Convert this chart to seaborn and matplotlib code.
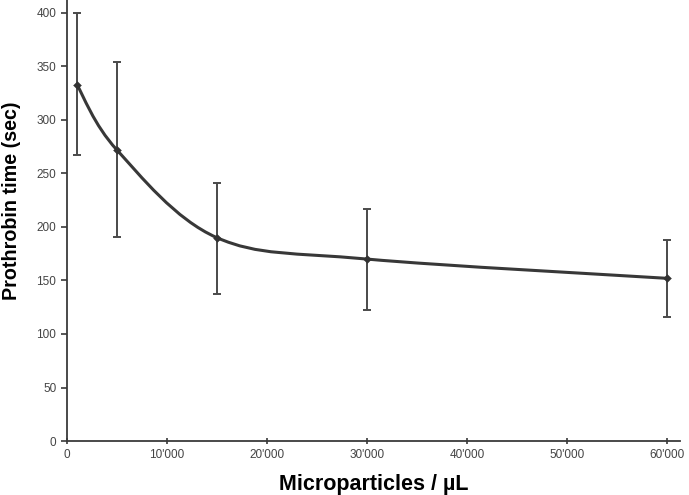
import numpy as np
import matplotlib
matplotlib.use("Agg")
import matplotlib.pyplot as plt
from matplotlib.path import Path
from matplotlib.patches import PathPatch
from matplotlib.ticker import FuncFormatter
import seaborn as sns
import pandas as pd

# ── Data ─────────────────────────────────────────────────────────────────────
particles = [1000, 5000, 15000, 30000, 60000]
pt_mean   = [333, 272, 190, 170, 152]
err_low   = [267, 191, 137, 122, 116]
err_high  = [400, 354, 241, 217, 188]

df = pd.DataFrame({"particles": particles, "pt": pt_mean})

sns.set_style("white")
plt.rcParams["font.family"] = ["Liberation Sans", "DejaVu Sans"]

fig = plt.figure(figsize=(6.89, 4.95), dpi=100)
ax = fig.add_axes([0.097, 0.109, 0.89, 0.891])

# error bars
yerr = [np.array(pt_mean) - np.array(err_low), np.array(err_high) - np.array(pt_mean)]
ax.errorbar(particles, pt_mean, yerr=yerr, fmt="none", ecolor="#4a4a4a",
            elinewidth=1.4, capsize=2.7, capthick=1.4, zorder=2)

# smoothed connecting line (Bezier through the points, like a spreadsheet "smooth line")
pts = np.column_stack([particles, pt_mean]).astype(float)
verts = [tuple(pts[0])]
codes = [Path.MOVETO]
n = len(pts)
for i in range(n - 1):
    p_prev = pts[i - 1] if i > 0 else pts[i]
    p_next2 = pts[i + 2] if i + 2 < n else pts[i + 1]
    c1 = pts[i] + (pts[i + 1] - p_prev) / 6
    c2 = pts[i + 1] - (p_next2 - pts[i]) / 6
    verts += [tuple(c1), tuple(c2), tuple(pts[i + 1])]
    codes += [Path.CURVE4] * 3
ax.add_patch(PathPatch(Path(verts, codes), facecolor="none",
                       edgecolor="#383838", linewidth=2.2, zorder=3))

sns.scatterplot(data=df, x="particles", y="pt", marker="D", s=16,
                color="#333333", edgecolor="#333333", ax=ax, zorder=4)

ax.set_xlim(0, 61300)
ax.set_ylim(0, 412)
ax.set_xticks(range(0, 60001, 10000))
ax.set_yticks(range(0, 401, 50))
ax.xaxis.set_major_formatter(FuncFormatter(
    lambda v, _: "0" if v == 0 else f"{int(v) // 1000}'000"))

for s in ["top", "right"]:
    ax.spines[s].set_visible(False)
for s in ["left", "bottom"]:
    ax.spines[s].set_color("#3a3a3a")
    ax.spines[s].set_linewidth(1.3)

ax.tick_params(axis="y", direction="out", length=4, width=1.2,
               colors="#3a3a3a", labelcolor="#444444", labelsize=8.5, left=True)
ax.tick_params(axis="x", direction="inout", length=5, width=1.2,
               colors="#3a3a3a", labelcolor="#444444", labelsize=8.5, bottom=True)

ax.set_xlabel("Microparticles / µL", fontsize=15.5, fontweight="bold",
              color="black", labelpad=9)
ax.set_ylabel("Prothrobin time (sec)", fontsize=14.2, fontweight="bold",
              color="black")
ax.yaxis.set_label_coords(-0.074, 0.544)

fig.savefig("out.png", dpi=100)
plt.close()
